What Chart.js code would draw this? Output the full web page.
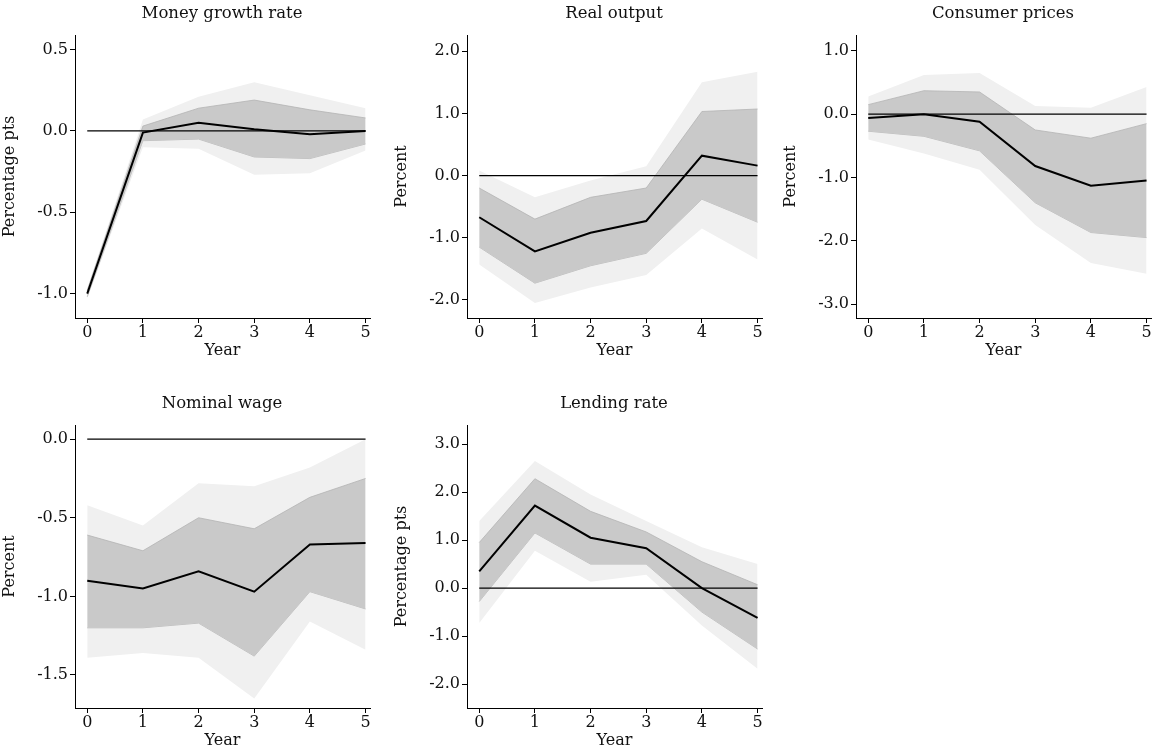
<!DOCTYPE html>
<html><head><meta charset="utf-8">
<script src="https://cdn.jsdelivr.net/npm/chart.js@4"></script>
<style>
body{margin:0;background:#fff;width:1153px;height:751px;position:relative;overflow:hidden;font-family:"DejaVu Serif","Liberation Serif",serif}
.p{position:absolute;width:384px;height:360px}
.t{position:absolute;font-size:16.5px;text-align:center;width:300px;color:#111}
</style></head><body>
<script>
var years = [0, 1, 2, 3, 4, 5];

var titles = ["Money growth rate", "Real output", "Consumer prices", "Nominal wage", "Lending rate"];
var yTitles = ["Percentage pts", "Percent", "Percent", "Percent", "Percentage pts"];
var yTicks = [[-1.0, -0.5, 0.0, 0.5], [-2, -1, 0, 1, 2], [-3, -2, -1, 0, 1], [-1.5, -1.0, -0.5, 0.0], [-2, -1, 0, 1, 2, 3]];
var yRange = [[-1.15, 0.59], [-2.29, 2.26], [-3.22, 1.25], [-1.71, 0.09], [-2.5, 3.4]];

var moneyLine = [-1.0, -0.01, 0.05, 0.01, -0.02, 0.0];
var moneyHi68 = [-0.98, 0.03, 0.14, 0.19, 0.13, 0.08];
var moneyLo68 = [-1.02, -0.06, -0.05, -0.16, -0.17, -0.08];
var moneyHi90 = [-0.97, 0.07, 0.21, 0.30, 0.22, 0.14];
var moneyLo90 = [-1.03, -0.10, -0.11, -0.27, -0.26, -0.12];

var outputLine = [-0.67, -1.22, -0.92, -0.73, 0.32, 0.16];
var outputHi68 = [-0.20, -0.70, -0.35, -0.20, 1.03, 1.07];
var outputLo68 = [-1.15, -1.73, -1.45, -1.25, -0.38, -0.75];
var outputHi90 = [0.08, -0.35, -0.08, 0.15, 1.50, 1.67];
var outputLo90 = [-1.43, -2.05, -1.80, -1.60, -0.85, -1.35];

var pricesLine = [-0.06, 0.0, -0.12, -0.82, -1.13, -1.05];
var pricesHi68 = [0.15, 0.37, 0.35, -0.25, -0.38, -0.15];
var pricesLo68 = [-0.27, -0.35, -0.58, -1.40, -1.87, -1.95];
var pricesHi90 = [0.28, 0.62, 0.65, 0.13, 0.10, 0.43];
var pricesLo90 = [-0.40, -0.62, -0.88, -1.75, -2.35, -2.52];

var wageLine = [-0.90, -0.95, -0.84, -0.97, -0.67, -0.66];
var wageHi68 = [-0.61, -0.71, -0.50, -0.57, -0.37, -0.25];
var wageLo68 = [-1.20, -1.20, -1.17, -1.38, -0.97, -1.08];
var wageHi90 = [-0.42, -0.55, -0.28, -0.30, -0.18, 0.0];
var wageLo90 = [-1.39, -1.36, -1.39, -1.65, -1.16, -1.34];

var rateLine = [0.35, 1.72, 1.05, 0.83, 0.0, -0.62];
var rateHi68 = [0.95, 2.28, 1.60, 1.17, 0.55, 0.07];
var rateLo68 = [-0.28, 1.15, 0.50, 0.50, -0.50, -1.27];
var rateHi90 = [1.40, 2.65, 1.95, 1.40, 0.85, 0.50];
var rateLo90 = [-0.73, 0.78, 0.13, 0.28, -0.78, -1.68];

var panels = [
  [moneyLine, moneyHi68, moneyLo68, moneyHi90, moneyLo90],
  [outputLine, outputHi68, outputLo68, outputHi90, outputLo90],
  [pricesLine, pricesHi68, pricesLo68, pricesHi90, pricesLo90],
  [wageLine, wageHi68, wageLo68, wageHi90, wageLo90],
  [rateLine, rateHi68, rateLo68, rateHi90, rateLo90]
];
var lefts = [0, 392, 781, 0, 392];
var tops = [0, 0, 0, 390, 390];

function pts(arr) { return arr.map(function(v, i) { return {x: years[i], y: v}; }); }

Chart.defaults.font.family = '"DejaVu Serif","Liberation Serif",serif';
Chart.defaults.color = '#111';

for (var i = 0; i < 5; i++) {
  var d = panels[i];
  var div = document.createElement('div');
  div.className = 'p';
  div.style.left = lefts[i] + 'px';
  div.style.top = tops[i] + 'px';
  var cv = document.createElement('canvas');
  div.appendChild(cv);
  document.body.appendChild(div);
  var t = document.createElement('div');
  t.className = 't';
  t.textContent = titles[i];
  t.style.left = (lefts[i] + 72) + 'px';
  t.style.top = (tops[i] + 3) + 'px';
  document.body.appendChild(t);

  var ticks = yTicks[i];
  new Chart(cv.getContext('2d'), {
    type: 'line',
    data: {
      datasets: [
        {data: pts(d[0]), borderColor: '#000', borderWidth: 2, pointRadius: 0, fill: false, order: 0},
        {data: pts([0, 0, 0, 0, 0, 0]), borderColor: '#000', borderWidth: 1.2, pointRadius: 0, fill: false, order: 1},
        {data: pts(d[1]), borderColor: '#b4b4b4', borderWidth: 0.8, pointRadius: 0, fill: '+1', backgroundColor: '#c9c9c9', order: 2},
        {data: pts(d[2]), borderColor: '#b4b4b4', borderWidth: 0.8, pointRadius: 0, fill: false, order: 3},
        {data: pts(d[3]), borderWidth: 0, pointRadius: 0, fill: '+1', backgroundColor: '#f0f0f0', order: 4},
        {data: pts(d[4]), borderWidth: 0, pointRadius: 0, fill: false, order: 5}
      ]
    },
    options: {
      responsive: true, maintainAspectRatio: false, animation: false,
      layout: {padding: {top: 35, right: 14, left: 0, bottom: 0}},
      plugins: {legend: {display: false}, tooltip: {enabled: false}},
      scales: {
        x: {
          type: 'linear', min: -0.22, max: 5.08,
          afterBuildTicks: function(s) { s.ticks = years.map(function(v) { return {value: v}; }); },
          afterFit: function(s) { s.height = 42; },
          grid: {drawOnChartArea: false, tickLength: 5, color: '#000'},
          border: {color: '#000', width: 1},
          ticks: {font: {size: 16}, padding: 0, maxRotation: 0},
          title: {display: true, text: 'Year', font: {size: 16}, padding: {top: -4, bottom: 0}}
        },
        y: {
          min: yRange[i][0], max: yRange[i][1],
          afterBuildTicks: (function(tk) { return function(s) { s.ticks = tk.map(function(v) { return {value: v}; }); }; })(ticks),
          afterFit: function(s) { s.width = 75; },
          grid: {drawOnChartArea: false, tickLength: 5, color: '#000'},
          border: {color: '#000', width: 1},
          ticks: {font: {size: 16}, padding: 2, callback: function(v) { return Number(v).toFixed(1); }},
          title: {display: true, text: yTitles[i], font: {size: 16}, padding: 0}
        }
      }
    }
  });
}
</script>
</body></html>
